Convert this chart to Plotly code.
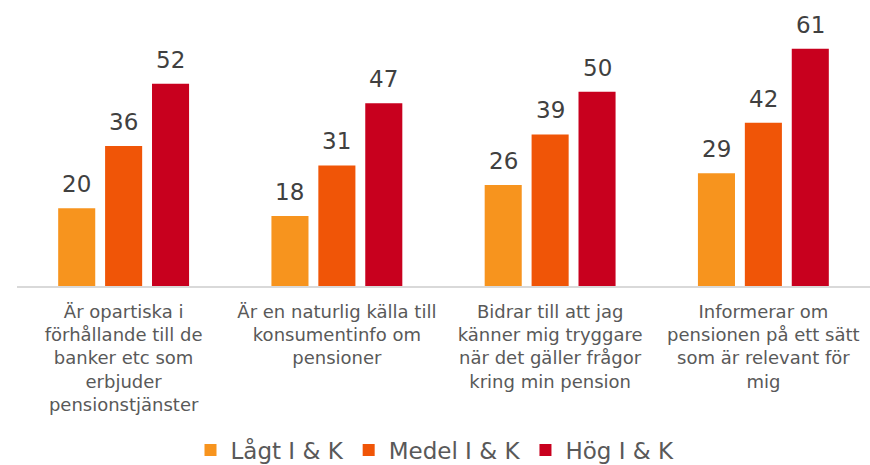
import plotly.graph_objects as go

categories = [
    "Är opartiska i<br>förhållande till de<br>banker etc som<br>erbjuder<br>pensionstjänster",
    "Är en naturlig källa till<br>konsumentinfo om<br>pensioner",
    "Bidrar till att jag<br>känner mig tryggare<br>när det gäller frågor<br>kring min pension",
    "Informerar om<br>pensionen på ett sätt<br>som är relevant för<br>mig",
]
series_names = ["Lågt I & K", "Medel I & K", "Hög I & K"]
lagt = [20, 18, 26, 29]
medel = [36, 31, 39, 42]
hog = [52, 47, 50, 61]
colors = ["#F7941E", "#F05507", "#C8001E"]

FONT = "Verdana, DejaVu Sans, sans-serif"
SLOT_PX = 47  # horizontal distance between neighbouring bars in a group

fig = go.Figure()
for i, (name, vals, col) in enumerate(zip(series_names, [lagt, medel, hog], colors)):
    fig.add_trace(go.Bar(
        x=categories, y=vals, name=name,
        marker=dict(color=col, line=dict(width=0)),
        hoverinfo="x+y+name",
    ))
    # value labels above each bar
    for c, v in zip(categories, vals):
        fig.add_annotation(
            x=c, y=v, text=str(v), showarrow=False,
            xshift=(i - 1) * SLOT_PX, yshift=9, yanchor="bottom",
            font=dict(family=FONT, size=23, color="#404040"),
        )

fig.update_layout(
    width=870, height=465,
    margin=dict(l=17, r=0, t=10, b=179, autoexpand=False),
    paper_bgcolor="white", plot_bgcolor="white",
    barmode="group", bargap=0.34, bargroupgap=0.21,
    font=dict(family=FONT, color="#595959"),
    showlegend=True,
    legend=dict(orientation="h", x=0.5, xanchor="center", xref="container",
                y=0.032, yanchor="middle", yref="container",
                font=dict(size=23, color="#595959"), itemwidth=30,
                traceorder="normal"),
)
fig.update_xaxes(showline=True, linecolor="#D9D9D9", linewidth=2, ticks="",
                 tickfont=dict(size=18, color="#595959"), showgrid=False,
                 ticklabelstandoff=8)
fig.update_yaxes(range=[0, 71], visible=False, showgrid=False)

fig.write_html("out.html")
